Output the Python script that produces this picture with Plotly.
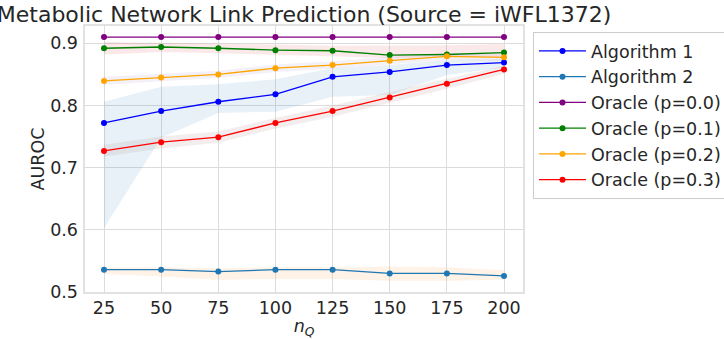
import plotly.graph_objects as go

n_q = [25, 50, 75, 100, 125, 150, 175, 200]

alg1 = [0.772, 0.791, 0.806, 0.818, 0.846, 0.854, 0.865, 0.869]
alg1_lo = [0.603, 0.748, 0.788, 0.790, 0.814, 0.817, 0.849, 0.861]
alg1_hi = [0.806, 0.830, 0.834, 0.842, 0.860, 0.865, 0.873, 0.875]

alg2 = [0.536, 0.536, 0.533, 0.536, 0.536, 0.530, 0.530, 0.526]
alg2_lo = [0.529, 0.525, 0.520, 0.521, 0.521, 0.518, 0.518, 0.520]
alg2_hi = [0.539, 0.540, 0.538, 0.540, 0.540, 0.541, 0.540, 0.535]

oracle0 = [0.910, 0.910, 0.910, 0.910, 0.910, 0.910, 0.910, 0.910]
oracle0_lo = [0.910, 0.910, 0.910, 0.910, 0.910, 0.910, 0.910, 0.910]
oracle0_hi = [0.910, 0.910, 0.910, 0.910, 0.910, 0.910, 0.910, 0.910]

oracle1 = [0.892, 0.894, 0.892, 0.889, 0.888, 0.881, 0.882, 0.885]
oracle1_lo = [0.882, 0.886, 0.884, 0.882, 0.879, 0.876, 0.878, 0.878]
oracle1_hi = [0.902, 0.901, 0.900, 0.898, 0.896, 0.896, 0.897, 0.899]

oracle2 = [0.8395, 0.845, 0.850, 0.860, 0.865, 0.872, 0.879, 0.8775]
oracle2_lo = [0.833, 0.839, 0.844, 0.854, 0.859, 0.866, 0.873, 0.872]
oracle2_hi = [0.846, 0.851, 0.856, 0.866, 0.871, 0.878, 0.884, 0.883]

oracle3 = [0.727, 0.741, 0.749, 0.772, 0.791, 0.813, 0.835, 0.858]
oracle3_lo = [0.718, 0.731, 0.740, 0.763, 0.782, 0.805, 0.827, 0.851]
oracle3_hi = [0.737, 0.750, 0.758, 0.780, 0.800, 0.822, 0.843, 0.864]

names = ["Algorithm 1", "Algorithm 2", "Oracle (p=0.0)", "Oracle (p=0.1)",
         "Oracle (p=0.2)", "Oracle (p=0.3)"]
means = [alg1, alg2, oracle0, oracle1, oracle2, oracle3]
lows = [alg1_lo, alg2_lo, oracle0_lo, oracle1_lo, oracle2_lo, oracle3_lo]
highs = [alg1_hi, alg2_hi, oracle0_hi, oracle1_hi, oracle2_hi, oracle3_hi]
line_colors = ["#0000ff", "#1f77b4", "#800080", "#008000", "#ffa500", "#ff0000"]
band_colors = ["rgba(31,119,180,0.1)", "rgba(255,127,14,0.1)", "rgba(44,160,44,0.1)",
               "rgba(214,39,40,0.1)", "rgba(148,103,189,0.1)", "rgba(140,86,75,0.1)"]

fig = go.Figure()

for i in range(len(names)):
    fig.add_trace(go.Scatter(
        x=n_q + n_q[::-1], y=highs[i] + lows[i][::-1],
        fill="toself", fillcolor=band_colors[i], mode="lines",
        line=dict(width=0, color=band_colors[i]), hoverinfo="skip",
        showlegend=False))

for i in range(len(names)):
    fig.add_trace(go.Scatter(
        x=n_q, y=means[i], name=names[i], mode="lines+markers",
        legendgroup=names[i],
        line=dict(color=line_colors[i], width=1.3),
        marker=dict(color=line_colors[i], size=6)))

font_family = "DejaVu Sans"
text_color = "#262626"
fs = 17.5

fig.update_layout(
    width=724, height=339,
    margin=dict(l=84, r=200, t=25, b=46),
    paper_bgcolor="white", plot_bgcolor="white",
    font=dict(family=font_family, size=fs, color=text_color),
    title=dict(text="Metabolic Network Link Prediction (Source = iWFL1372)",
               x=0.5, xref="paper", xanchor="center",
               y=0.958, yref="container", yanchor="middle",
               font=dict(size=22, color=text_color)),
    showlegend=True,
    legend=dict(x=533 / 724, y=1 - 32 / 339, xref="container", yref="container",
                xanchor="left", yanchor="top",
                bgcolor="white", bordercolor="#cccccc", borderwidth=1,
                font=dict(size=fs, color=text_color), itemwidth=47,
                traceorder="grouped", tracegroupgap=0),
    xaxis=dict(range=[16.25, 208.75], tickvals=n_q,
               ticktext=[str(v) for v in n_q],
               showgrid=True, gridcolor="#dcdcdc", gridwidth=1,
               zeroline=False, showline=False, ticks="",
               automargin=False,
               ticklabelstandoff=2, tickfont=dict(size=fs),
               title=dict(text="<i>n</i><sub><i>Q</i></sub>", standoff=4,
                          font=dict(size=fs))),
    yaxis=dict(range=[0.4985, 0.9294], tickvals=[0.5, 0.6, 0.7, 0.8, 0.9],
               ticktext=["0.5", "0.6", "0.7", "0.8", "0.9"],
               showgrid=True, gridcolor="#dcdcdc", gridwidth=1,
               zeroline=False, showline=False, ticks="",
               automargin=False,
               ticklabelstandoff=5, tickfont=dict(size=fs),
               title=dict(text="AUROC", standoff=1, font=dict(size=fs))),
    shapes=[dict(type="rect", xref="paper", yref="paper", x0=0, x1=1, y0=0, y1=1,
                 line=dict(color="#d9d9d9", width=1.5), layer="below")],
)

fig.write_html("out.html")
